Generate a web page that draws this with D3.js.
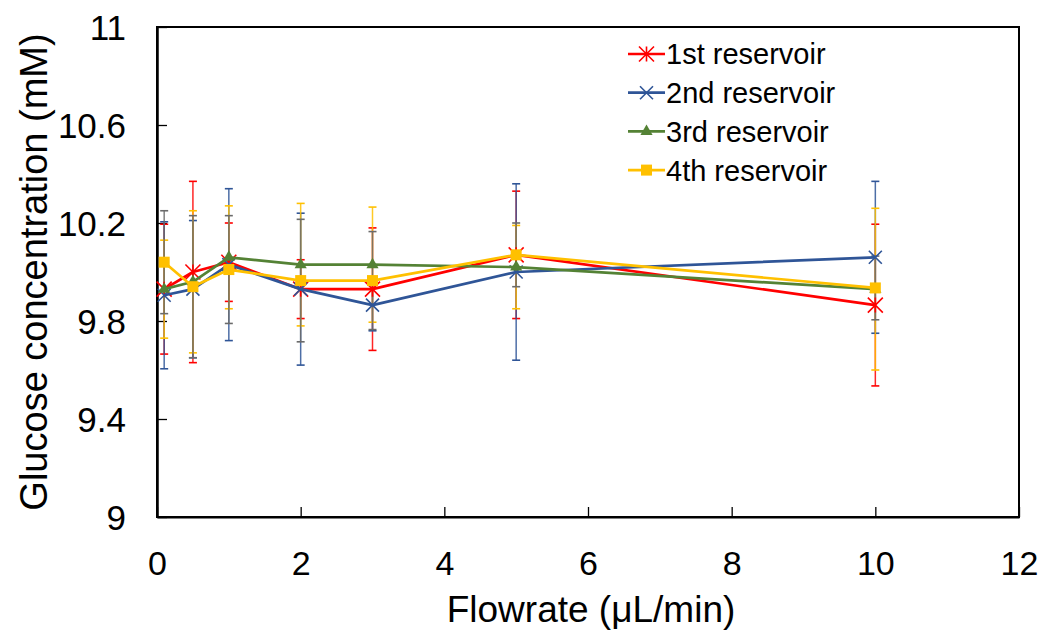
<!DOCTYPE html>
<html>
<head>
<meta charset="utf-8">
<script src="https://cdn.jsdelivr.net/npm/d3@7"></script>
<style>
  html, body { margin: 0; padding: 0; background: #fff; }
  svg { display: block; font-family: "Liberation Sans", Arial, sans-serif; }
</style>
</head>
<body>
<svg id="chart" width="1046" height="632"></svg>
<script>
// ---- data ----
const flowrates = [0.1, 0.5, 1, 2, 3, 5, 10];
const seriesNames = ["1st reservoir", "2nd reservoir", "3rd reservoir", "4th reservoir"];
const res1 = [9.93, 10.00, 10.04, 9.93, 9.93, 10.07, 9.865];
const res1Err = [0.265, 0.37, 0.16, 0.12, 0.25, 0.26, 0.33];
const res2 = [9.905, 9.93, 10.03, 9.93, 9.865, 10.00, 10.06];
const res2Err = [0.30, 0.28, 0.31, 0.31, 0.105, 0.36, 0.31];
const res3 = [9.93, 9.96, 10.06, 10.03, 10.03, 10.02, 9.93];
const res3Err = [0.20, 0.29, 0.21, 0.25, 0.235, 0.17, 0.33];
const res4 = [10.04, 9.94, 10.01, 9.965, 9.965, 10.07, 9.935];
const res4Err = [0.21, 0.29, 0.22, 0.25, 0.20, 0.13, 0.13];
const xTicks = [0, 2, 4, 6, 8, 10, 12];
const yTicks = [9, 9.4, 9.8, 10.2, 10.6, 11];
const yTickLabels = ["9", "9.4", "9.8", "10.2", "10.6", "11"];

const seriesValues = [res1, res2, res3, res4];
const seriesErrors = [res1Err, res2Err, res3Err, res4Err];
const lineColors = ["#FF0000", "#2F5597", "#548235", "#FFC000"];
const errColors = ["#FF0000", "#2F5597", "#FFC000", "#6b6b6b"];
const markers = ["star", "x", "triangle", "square"];

// ---- layout ----
const svg = d3.select("#chart");
const L = 157, R = 1019, T = 27, B = 517;
const x = d3.scaleLinear().domain([0, 12]).range([L, R]);
const y = d3.scaleLinear().domain([9, 11]).range([B, T]);

// frame
svg.append("rect").attr("x", L).attr("y", T).attr("width", R - L).attr("height", B - T)
  .attr("fill", "none").attr("stroke", "#000").attr("stroke-width", 2);

// axes (ticks inward)
const xAxis = d3.axisBottom(x).tickValues(xTicks).tickSizeInner(-10).tickSizeOuter(0).tickPadding(22)
  .tickFormat(d3.format("d"));
const gx = svg.append("g").attr("transform", `translate(0,${B})`).call(xAxis);
gx.select(".domain").attr("stroke", "#000").attr("stroke-width", 2);
gx.selectAll(".tick line").attr("stroke", "#000").attr("stroke-width", 1.3);
gx.selectAll(".tick text").attr("font-size", 34).attr("fill", "#000")
  .attr("font-family", '"Liberation Sans", Arial, sans-serif').attr("dy", 0).attr("y", 58);

const yAxis = d3.axisLeft(y).tickValues(yTicks).tickSizeInner(-10).tickSizeOuter(0)
  .tickFormat((d, i) => yTickLabels[i]);
const gy = svg.append("g").attr("transform", `translate(${L},0)`).call(yAxis);
gy.select(".domain").attr("stroke", "#000").attr("stroke-width", 2.5);
gy.selectAll(".tick line").attr("stroke", "#000").attr("stroke-width", 1.3);
gy.selectAll(".tick text").attr("font-size", 35).attr("fill", "#000")
  .attr("font-family", '"Liberation Sans", Arial, sans-serif').attr("x", -31).attr("dy", "0.36em");

// axis titles
svg.append("text").attr("x", (L + R) / 2 + 3).attr("y", 622).attr("text-anchor", "middle")
  .attr("font-size", 37).attr("fill", "#000").text("Flowrate (\u03bcL/min)");
svg.append("text").attr("transform", `translate(47,${(T + B) / 2}) rotate(-90)`)
  .attr("text-anchor", "middle").attr("font-size", 38).attr("fill", "#000")
  .text("Glucose concentration (mM)");

// marker drawing
function drawMarker(g, type, cx, cy, color) {
  if (type === "star") {
    const s = 7.5;
    const p = `M${cx - s},${cy - s}L${cx + s},${cy + s}M${cx - s},${cy + s}L${cx + s},${cy - s}M${cx},${cy - s}L${cx},${cy + s}`;
    g.append("path").attr("d", p).attr("stroke", color).attr("stroke-width", 1.6).attr("fill", "none");
  } else if (type === "x") {
    const s = 6.5;
    const p = `M${cx - s},${cy - s}L${cx + s},${cy + s}M${cx - s},${cy + s}L${cx + s},${cy - s}`;
    g.append("path").attr("d", p).attr("stroke", color).attr("stroke-width", 1.6).attr("fill", "none");
  } else if (type === "triangle") {
    g.append("path").attr("d", d3.symbol(d3.symbolTriangle, 64)()).attr("transform", `translate(${cx},${cy})`)
      .attr("fill", color);
  } else if (type === "square") {
    g.append("rect").attr("x", cx - 5.5).attr("y", cy - 5.5).attr("width", 11).attr("height", 11).attr("fill", color);
  }
}

// error bars
const gErr = svg.append("g");
seriesValues.forEach((vals, si) => {
  vals.forEach((v, i) => {
    const cx = x(flowrates[i]);
    const e = seriesErrors[si][i];
    const y1 = y(v + e), y2 = y(v - e);
    const c = errColors[si];
    gErr.append("line").attr("x1", cx).attr("x2", cx).attr("y1", y1).attr("y2", y2)
      .attr("stroke", c).attr("stroke-width", 1.5).attr("opacity", 0.85);
    [y1, y2].forEach(yy => gErr.append("line").attr("x1", cx - 4).attr("x2", cx + 4)
      .attr("y1", yy).attr("y2", yy).attr("stroke", c).attr("stroke-width", 1.6));
  });
});

// lines and markers
const line = d3.line().x((d, i) => x(flowrates[i])).y(d => y(d));
seriesValues.forEach((vals, si) => {
  const g = svg.append("g");
  g.append("path").datum(vals).attr("d", line).attr("fill", "none")
    .attr("stroke", lineColors[si]).attr("stroke-width", 2.7).attr("stroke-linejoin", "round");
  vals.forEach((v, i) => drawMarker(g, markers[si], x(flowrates[i]), y(v), lineColors[si]));
});

// legend
const legX1 = 628, legX2 = 665, legY0 = 54, legDY = 38.7;
seriesNames.forEach((name, si) => {
  const g = svg.append("g");
  const yy = legY0 + si * legDY;
  g.append("line").attr("x1", legX1).attr("x2", legX2).attr("y1", yy).attr("y2", yy)
    .attr("stroke", lineColors[si]).attr("stroke-width", 2.7);
  drawMarker(g, markers[si], (legX1 + legX2) / 2, yy, lineColors[si]);
  g.append("text").attr("x", legX2 + 1).attr("y", yy).attr("dy", "0.36em")
    .attr("font-size", 29).attr("fill", "#000").text(name);
});
</script>
</body>
</html>
